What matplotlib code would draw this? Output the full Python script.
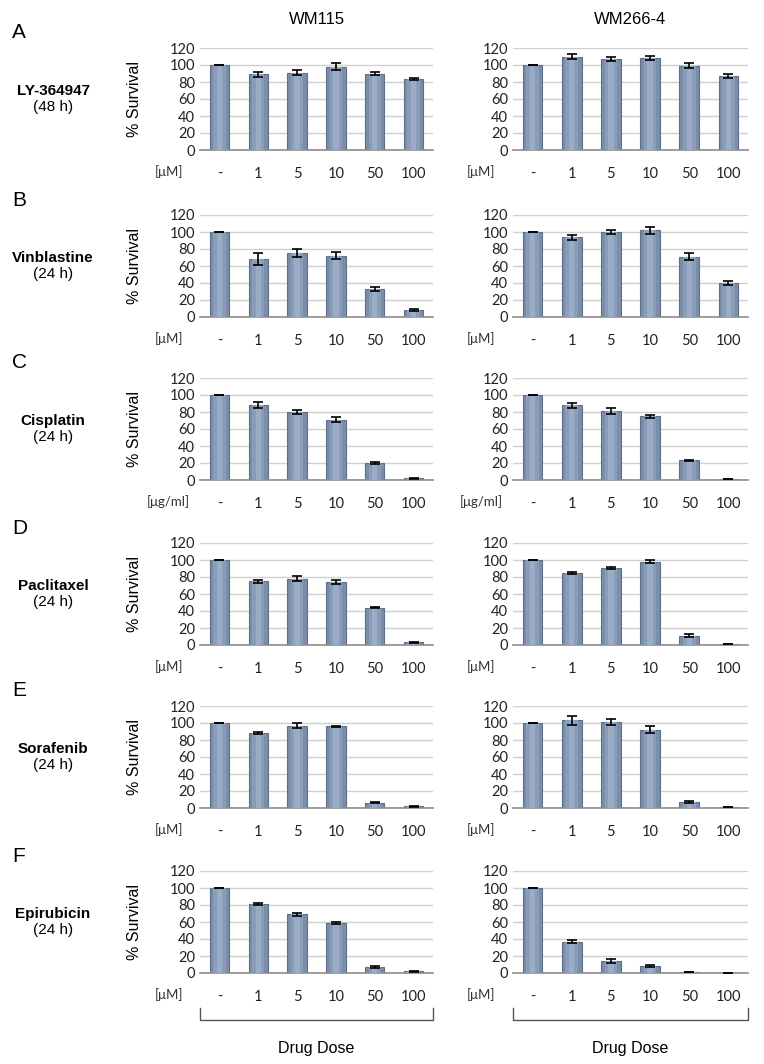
import numpy as np
import matplotlib.pyplot as plt

# dose categories and units
doses = ['-', '1', '5', '10', '50', '100']
units = ['[μM]', '[μM]', '[μg/ml]', '[μM]', '[μM]', '[μM]']
letters = ['A', 'B', 'C', 'D', 'E', 'F']
drugs = ['LY-364947', 'Vinblastine', 'Cisplatin', 'Paclitaxel', 'Sorafenib', 'Epirubicin']
times = ['(48 h)', '(24 h)', '(24 h)', '(24 h)', '(24 h)', '(24 h)']
cells = ['WM115', 'WM266-4']

# % survival, WM115
wm115 = [
    [100, 89, 91, 98, 90, 84],
    [100, 68, 75, 72, 33, 8],
    [100, 88, 80, 71, 20, 2],
    [100, 75, 78, 74, 44, 3],
    [100, 88, 97, 96, 6, 2],
    [100, 81, 69, 59, 7, 2],
]
wm115_err = [
    [0.5, 3, 3, 4, 1.5, 1.2],
    [0.5, 7, 5, 4, 2, 1],
    [0.5, 3.5, 2, 3, 1, 0.5],
    [0.5, 2, 3, 2, 1, 0.5],
    [0.5, 1, 3, 1, 0.5, 0.5],
    [0.5, 1.5, 1.5, 1, 1, 0.5],
]
# % survival, WM266-4
wm266 = [
    [100, 110, 107, 108, 99, 87],
    [100, 94, 100, 102, 71, 40],
    [100, 88, 81, 75, 23, 1],
    [100, 85, 91, 98, 11, 1],
    [100, 103, 101, 92, 7, 1],
    [100, 37, 14, 8, 1, 0],
]
wm266_err = [
    [0.5, 3, 2.5, 2.5, 3, 2],
    [0.5, 3, 2, 4, 4, 2],
    [0.5, 3, 3.5, 2, 1, 0.3],
    [0.5, 1, 1, 2, 2, 0.3],
    [0.5, 5, 3.5, 4, 1.5, 0.3],
    [0.5, 1.5, 2, 1, 0.3, 0],
]

W, H = 764, 1064
fig = plt.figure(figsize=(W / 100, H / 100), dpi=100)

tick_font = 'Lato'
lab_font = 'Liberation Sans'

lefts = [200, 513]
widths = [233, 235]
bottoms = [150, 317, 480, 645, 808, 973]
ax_h = 102

x = np.arange(len(doses))
for r in range(6):
    for c in range(2):
        y0 = bottoms[r]
        ax = fig.add_axes([lefts[c] / W, 1 - y0 / H, widths[c] / W, ax_h / H])
        vals = (wm115 if c == 0 else wm266)[r]
        errs = (wm115_err if c == 0 else wm266_err)[r]
        ax.bar(x, vals, width=0.5, color='#7a8ea9', edgecolor='#5d6e88', linewidth=0.8, zorder=2)
        ax.bar(x, vals, width=0.32, color='#8a9db8', linewidth=0, zorder=3)
        ax.bar(x, vals, width=0.14, color='#9badc6', linewidth=0, zorder=3)
        ax.errorbar(x, vals, yerr=errs, fmt='none', ecolor='black', elinewidth=1.2,
                    capsize=3.5, capthick=1.2, zorder=4)
        ax.set_ylim(0, 120)
        ax.set_xlim(-0.5, 5.5)
        ax.set_yticks(range(0, 121, 20))
        ax.yaxis.grid(True, color='#d0d0d0', linewidth=1)
        ax.set_axisbelow(True)
        for s in ['top', 'right', 'left']:
            ax.spines[s].set_visible(False)
        ax.spines['bottom'].set_color('#8c8c8c')
        ax.spines['bottom'].set_linewidth(1.2)
        ax.tick_params(axis='both', length=0, labelsize=10.5, labelcolor='#222222')
        ax.tick_params(axis='x', pad=12)
        ax.set_xticks(x)
        ax.set_xticklabels(doses, fontname=tick_font)
        for t in ax.get_yticklabels():
            t.set_fontname(tick_font)
        ax.text(-0.135, -0.215, units[r], transform=ax.transAxes, ha='center', va='center',
                fontsize=9.5, fontname=tick_font, color='#333333')
        if c == 0:
            ax.set_ylabel('% Survival', fontsize=11.5, fontname=lab_font, labelpad=20)
        if r == 0:
            ax.set_title(cells[c], fontsize=12, fontname=lab_font, pad=17)
        if r == 5:
            ax.plot([0, 0, 1, 1], [-0.34, -0.46, -0.46, -0.34], transform=ax.transAxes,
                    color='#555555', linewidth=1, clip_on=False)
            ax.text(0.5, -0.74, 'Drug Dose', transform=ax.transAxes, ha='center', va='center',
                    fontsize=11.5, fontname=lab_font)
    top = bottoms[r] - ax_h
    mid = bottoms[r] - ax_h / 2
    fig.text(12 / W, 1 - (top - 15) / H, letters[r], fontsize=15, fontname=lab_font,
             ha='left', va='center')
    fig.text(53 / W, 1 - (mid - 8) / H, drugs[r], fontsize=11, fontname=lab_font,
             fontweight='bold', ha='center', va='center')
    fig.text(53 / W, 1 - (mid + 8) / H, times[r], fontsize=11, fontname=lab_font,
             ha='center', va='center')

fig.savefig('out.png', dpi=100)
